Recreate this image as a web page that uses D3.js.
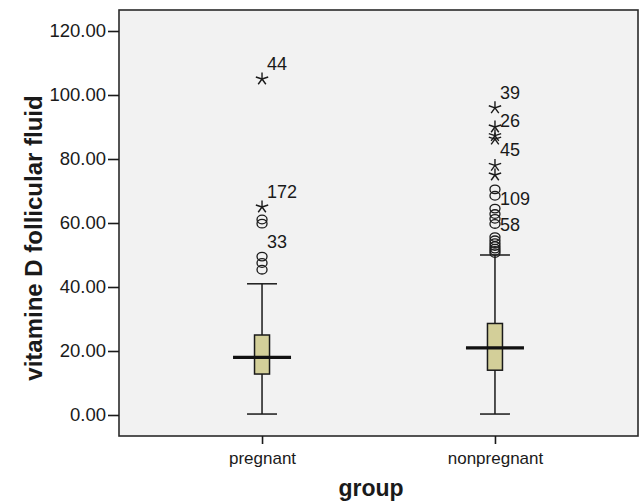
<!DOCTYPE html>
<html>
<head>
<meta charset="utf-8">
<script src="https://cdn.jsdelivr.net/npm/d3@7"></script>
<style>
  body { margin: 0; background: #fff; }
  text { font-family: "Liberation Sans", Arial, sans-serif; fill: #1a1a1a; }
</style>
</head>
<body>
<div id="chart"></div>
<script>
// groups and box statistics
const groups = ["pregnant", "nonpregnant"];
const whiskerLow = [0.3, 0.3];
const q1 = [12.8, 14.0];
const median = [18.0, 21.0];
const q3 = [25.0, 28.6];
const whiskerHigh = [41.0, 50.0];

// outliers (circles) and extremes (stars)
const outliersPregnant = [61.1, 59.8, 49.5, 47.5, 45.4];
const extremesPregnant = [105.0, 65.0];
const outliersNonpregnant = [70.5, 68.5, 64.5, 62.8, 61.3, 59.7, 55.6, 54.6, 53.7, 52.8, 52.0, 51.3, 50.6];
const extremesNonpregnant = [96.0, 90.0, 87.3, 86.2, 78.0, 75.0];

// case labels: group, value of the marked point, case number
const caseGroups = ["pregnant", "pregnant", "pregnant", "nonpregnant", "nonpregnant", "nonpregnant", "nonpregnant", "nonpregnant"];
const caseValues = [105.0, 65.0, 49.5, 96.0, 87.3, 78.0, 62.8, 54.6];
const caseIds = ["44", "172", "33", "39", "26", "45", "109", "58"];

const yTicks = [0, 20, 40, 60, 80, 100, 120];

const svg = d3.select("#chart")
    .append("svg")
    .attr("width", 639)
    .attr("height", 502);

const frame = { left: 119, right: 638, top: 10, bottom: 436 };

const x = d3.scalePoint()
    .domain(groups)
    .range([frame.left, frame.right])
    .padding(0.614);

const y = d3.scaleLinear()
    .domain([0, 120])
    .range([415, 31]);

// plot background
svg.append("rect")
    .attr("x", frame.left)
    .attr("y", frame.top)
    .attr("width", frame.right - frame.left)
    .attr("height", frame.bottom - frame.top)
    .attr("fill", "#f2f2f2")
    .attr("stroke", "#2a2a2a")
    .attr("stroke-width", 1.6);

// y axis
const yAxis = svg.append("g")
    .attr("transform", `translate(${frame.left},0)`)
    .call(d3.axisLeft(y).tickValues(yTicks).tickSize(11).tickPadding(2).tickFormat(d3.format(".2f")));
yAxis.select(".domain").remove();
yAxis.selectAll(".tick line").attr("stroke", "#1a1a1a").attr("stroke-width", 1.6);
yAxis.selectAll(".tick text")
    .attr("font-family", "Liberation Sans, Arial, sans-serif")
    .attr("font-size", 18.5)
    .attr("fill", "#1a1a1a");

// x axis
const xAxis = svg.append("g")
    .attr("transform", `translate(0,${frame.bottom})`)
    .call(d3.axisBottom(x).tickSize(8).tickPadding(8));
xAxis.select(".domain").remove();
xAxis.selectAll(".tick line").attr("stroke", "#1a1a1a").attr("stroke-width", 1.6);
xAxis.selectAll(".tick text")
    .attr("font-family", "Liberation Sans, Arial, sans-serif")
    .attr("font-size", 17)
    .attr("fill", "#1a1a1a");

// axis titles
svg.append("text")
    .attr("transform", "rotate(-90)")
    .attr("x", -238)
    .attr("y", 42)
    .attr("text-anchor", "middle")
    .attr("font-weight", "bold")
    .attr("font-size", 24)
    .text("vitamine D follicular fluid");

svg.append("text")
    .attr("x", 371)
    .attr("y", 496)
    .attr("text-anchor", "middle")
    .attr("font-weight", "bold")
    .attr("font-size", 23)
    .text("group");

// boxes
const boxData = groups.map((g, i) => ({
    group: g, lo: whiskerLow[i], q1: q1[i], med: median[i], q3: q3[i], hi: whiskerHigh[i]
}));

const boxW = 15, capW = 30, medW = 58;
const gBox = svg.append("g");

gBox.selectAll(".whisker")
    .data(boxData)
    .join("line")
    .attr("x1", d => x(d.group))
    .attr("x2", d => x(d.group))
    .attr("y1", d => y(d.lo))
    .attr("y2", d => y(d.hi))
    .attr("stroke", "#1a1a1a")
    .attr("stroke-width", 1.5);

["lo", "hi"].forEach(k => {
    gBox.selectAll(".cap-" + k)
        .data(boxData)
        .join("line")
        .attr("x1", d => x(d.group) - capW / 2)
        .attr("x2", d => x(d.group) + capW / 2)
        .attr("y1", d => y(d[k]))
        .attr("y2", d => y(d[k]))
        .attr("stroke", "#1a1a1a")
        .attr("stroke-width", 1.5);
});

gBox.selectAll("rect")
    .data(boxData)
    .join("rect")
    .attr("x", d => x(d.group) - boxW / 2)
    .attr("y", d => y(d.q3))
    .attr("width", boxW)
    .attr("height", d => y(d.q1) - y(d.q3))
    .attr("fill", "#d3cf99")
    .attr("stroke", "#1a1a1a")
    .attr("stroke-width", 1.5);

gBox.selectAll(".median")
    .data(boxData)
    .join("line")
    .attr("x1", d => x(d.group) - medW / 2)
    .attr("x2", d => x(d.group) + medW / 2)
    .attr("y1", d => y(d.med))
    .attr("y2", d => y(d.med))
    .attr("stroke", "#111")
    .attr("stroke-width", 3.2);

// outlier circles
const circles = [
    ...outliersPregnant.map(v => ({ group: "pregnant", v })),
    ...outliersNonpregnant.map(v => ({ group: "nonpregnant", v }))
];
svg.append("g").selectAll("ellipse")
    .data(circles)
    .join("ellipse")
    .attr("cx", d => x(d.group))
    .attr("cy", d => y(d.v))
    .attr("rx", 5)
    .attr("ry", 4.3)
    .attr("fill", "none")
    .attr("stroke", "#1a1a1a")
    .attr("stroke-width", 1.3);

// extreme stars (5-armed asterisk)
const starPath = (() => {
    const r = 6.5;
    let p = "";
    for (let k = 0; k < 5; k++) {
        const a = -Math.PI / 2 + k * 2 * Math.PI / 5;
        p += `M0,0L${(r * Math.cos(a)).toFixed(2)},${(r * Math.sin(a)).toFixed(2)}`;
    }
    return p;
})();
const stars = [
    ...extremesPregnant.map(v => ({ group: "pregnant", v })),
    ...extremesNonpregnant.map(v => ({ group: "nonpregnant", v }))
];
svg.append("g").selectAll("path")
    .data(stars)
    .join("path")
    .attr("transform", d => `translate(${x(d.group)},${y(d.v)})`)
    .attr("d", starPath)
    .attr("fill", "none")
    .attr("stroke", "#1a1a1a")
    .attr("stroke-width", 1.4);

// case labels
svg.append("g").selectAll("text")
    .data(caseIds.map((id, i) => ({ id, group: caseGroups[i], v: caseValues[i] })))
    .join("text")
    .attr("x", d => x(d.group) + 5)
    .attr("y", d => y(d.v) - 9)
    .attr("font-size", 18)
    .text(d => d.id);
</script>
</body>
</html>
